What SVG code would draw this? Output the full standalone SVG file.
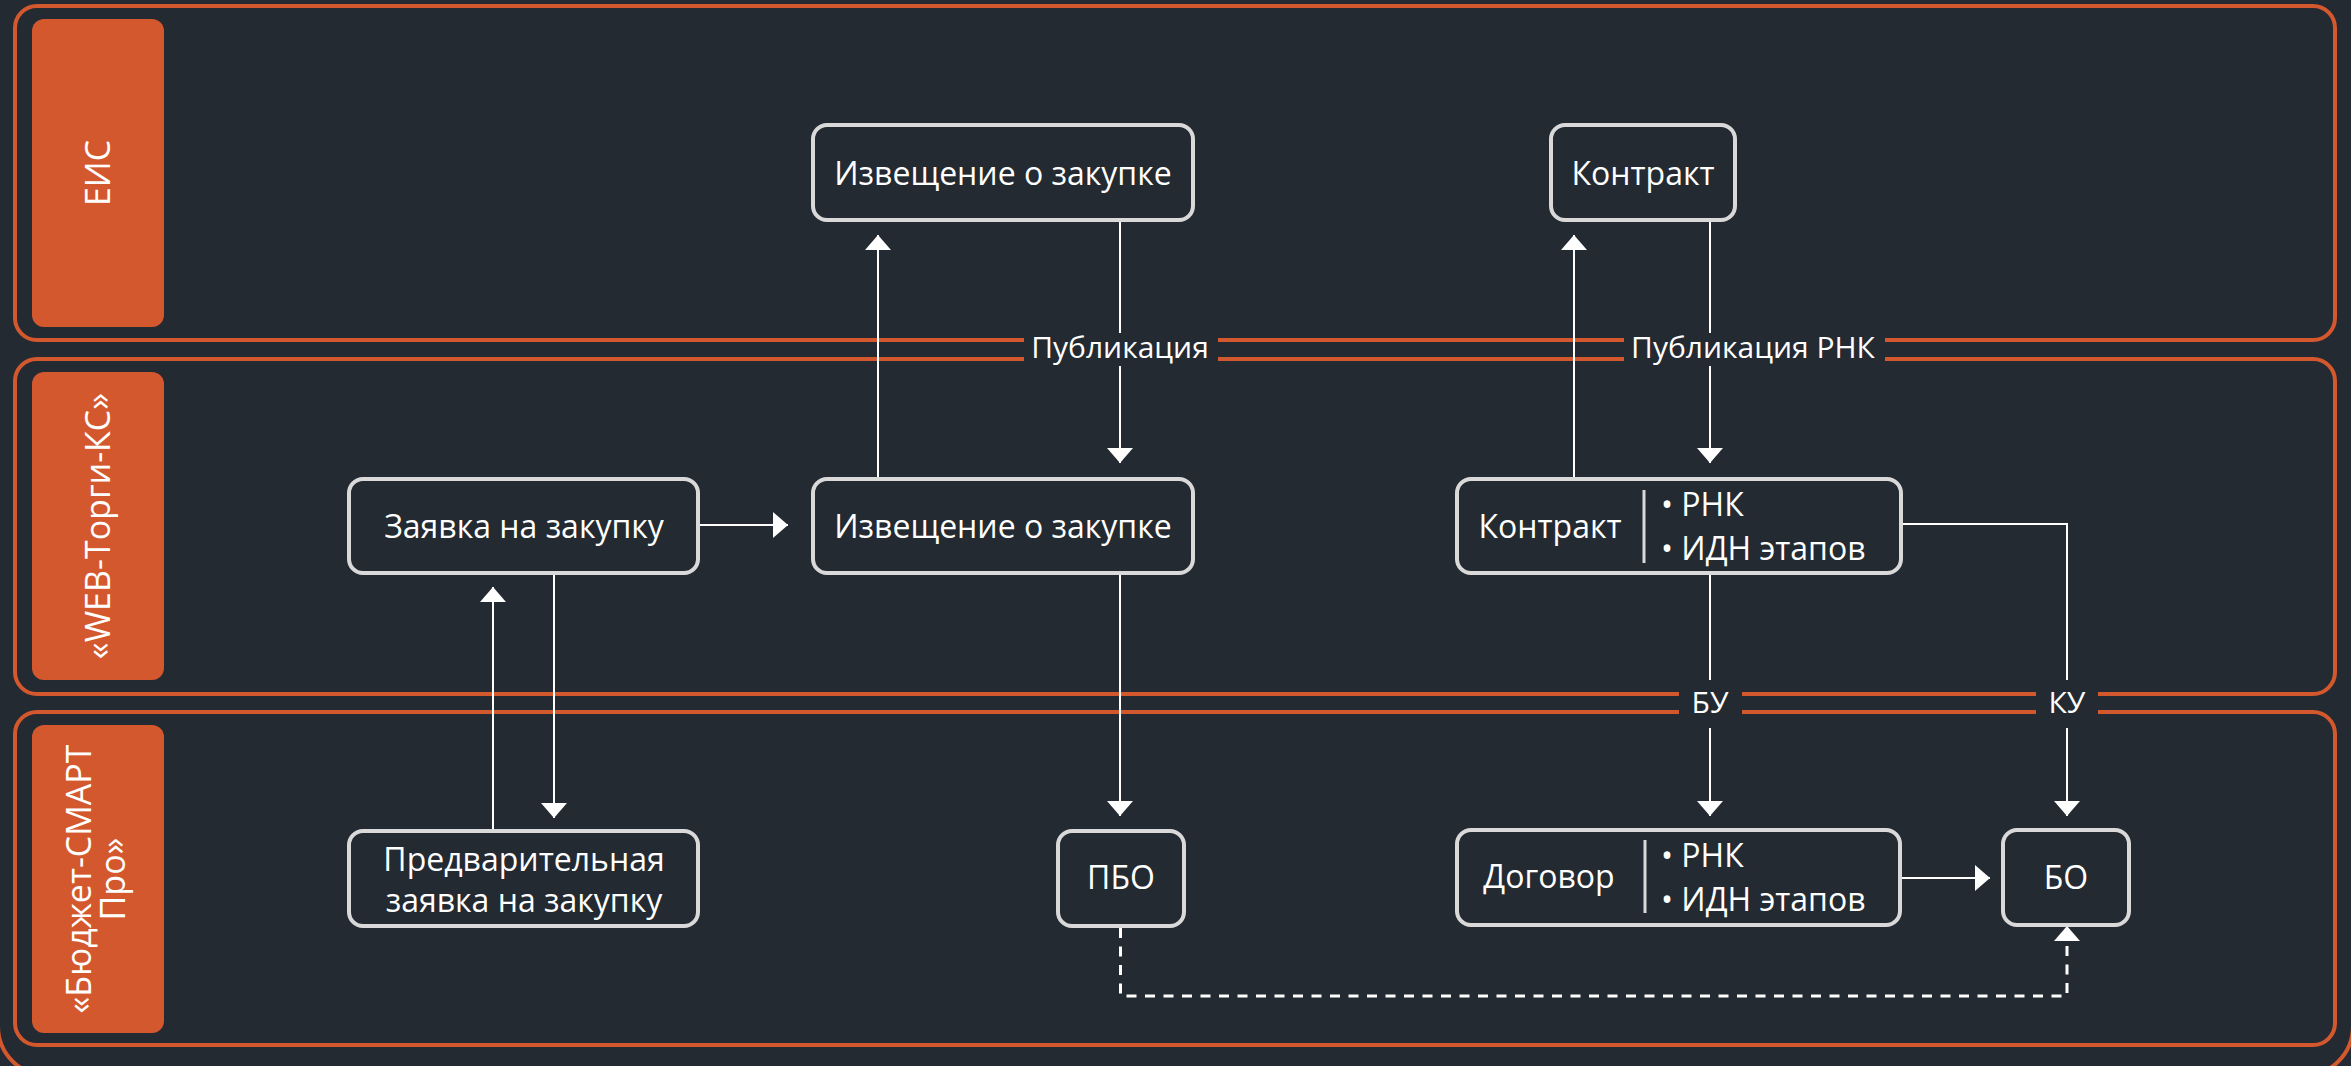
<svg xmlns="http://www.w3.org/2000/svg" width="2351" height="1066" viewBox="0 0 2351 1066">
<defs>
<style>
.lane{fill:none;stroke:#d4582e;stroke-width:4}
.lbl{fill:#d4582e}
.ltxt{font-family:"Open Sans","Noto Sans","DejaVu Sans",sans-serif;font-size:34px;fill:#ffffff;text-anchor:middle}
.box{fill:#232a31;stroke:#d9d9d9;stroke-width:4}
.t{font-family:"Open Sans","Noto Sans","DejaVu Sans",sans-serif;font-size:32px;fill:#ffffff;text-anchor:middle}
.ts{font-family:"Open Sans","Noto Sans","DejaVu Sans",sans-serif;font-size:32px;fill:#ffffff;text-anchor:start}
.ct{font-family:"Open Sans","Noto Sans","DejaVu Sans",sans-serif;font-size:30px;fill:#ffffff;text-anchor:middle}
.div{stroke:#d9d9d9;stroke-width:3}
.c{fill:none;stroke:#ffffff;stroke-width:2}
.dash{fill:none;stroke:#ffffff;stroke-width:3;stroke-dasharray:10 8.5}
.lb{fill:#232a31}
</style>
<marker id="ah" markerUnits="userSpaceOnUse" markerWidth="15" markerHeight="26" viewBox="0 0 15 26" refX="15" refY="13" orient="auto">
<path d="M0,0 L15,13 L0,26 z" fill="#ffffff"/>
</marker>
</defs>
<rect x="0" y="0" width="2351" height="1066" fill="#232a31"/>
<rect x="-2" y="-300" width="2355" height="1376" rx="50" fill="none" stroke="#d4582e" stroke-width="4"/>

<g id="lanes">
<g id="lane-eis">
<rect class="lane" x="15" y="6" width="2320" height="334" rx="22"/>
<rect class="lbl" x="32" y="19" width="132" height="308" rx="12"/>
<text class="ltxt" transform="translate(110,173) rotate(-90)">ЕИС</text>
</g>
<g id="lane-web">
<rect class="lane" x="15" y="359" width="2320" height="335" rx="22"/>
<rect class="lbl" x="32" y="372" width="132" height="308" rx="12"/>
<text class="ltxt" transform="translate(110,526) rotate(-90)">«WEB-Торги-КС»</text>
</g>
<g id="lane-budget">
<rect class="lane" x="15" y="712" width="2320" height="333" rx="22"/>
<rect class="lbl" x="32" y="725" width="132" height="308" rx="12"/>
<text class="ltxt" transform="translate(91,879) rotate(-90)">«Бюджет-СМАРТ</text>
<text class="ltxt" transform="translate(125,879) rotate(-90)">Про»</text>
</g>
</g>

<g id="connectors">
<path class="c" d="M700,525 H788" marker-end="url(#ah)"/>
<path class="c" d="M878,477 V235" marker-end="url(#ah)"/>
<path class="c" d="M1120,222 V463" marker-end="url(#ah)"/>
<path class="c" d="M1120,575 V816" marker-end="url(#ah)"/>
<path class="c" d="M493,829 V587" marker-end="url(#ah)"/>
<path class="c" d="M554,575 V818" marker-end="url(#ah)"/>
<path class="c" d="M1574,477 V235" marker-end="url(#ah)"/>
<path class="c" d="M1710,222 V463" marker-end="url(#ah)"/>
<path class="c" d="M1710,575 V816" marker-end="url(#ah)"/>
<path class="c" d="M1903,524 H2067 V816" marker-end="url(#ah)"/>
<path class="c" d="M1902,878 H1990" marker-end="url(#ah)"/>
<path class="dash" d="M1120.5,928 V996 H2067 V942"/>
<path d="M2054,941 L2067,926 L2080,941 z" fill="#ffffff"/>
<g id="labels">
<rect class="lb" x="1024" y="333" width="194" height="33"/>
<text class="ct" x="1120" y="358">Публикация</text>
<rect class="lb" x="1624" y="333" width="261" height="33"/>
<text class="ct" x="1753" y="358">Публикация РНК</text>
<rect class="lb" x="1679" y="680" width="63" height="48"/>
<text class="ct" x="1710" y="713">БУ</text>
<rect class="lb" x="2036" y="680" width="62" height="48"/>
<text class="ct" x="2067" y="713">КУ</text>
</g>
</g>

<g id="node-izv-eis">
<rect class="box" x="813" y="125" width="380" height="95" rx="14"/>
<text class="t" x="1003" y="185">Извещение о закупке</text>
</g>
<g id="node-kontrakt-eis">
<rect class="box" x="1551" y="125" width="184" height="95" rx="14"/>
<text class="t" x="1643" y="185">Контракт</text>
</g>
<g id="node-zayavka">
<rect class="box" x="349" y="479" width="349" height="94" rx="14"/>
<text class="t" x="524" y="538">Заявка на закупку</text>
</g>
<g id="node-izv-web">
<rect class="box" x="813" y="479" width="380" height="94" rx="14"/>
<text class="t" x="1003" y="538">Извещение о закупке</text>
</g>
<g id="node-kontrakt-web">
<rect class="box" x="1457" y="479" width="444" height="94" rx="14"/>
<text class="t" x="1550" y="538">Контракт</text>
<line class="div" x1="1644" y1="490" x2="1644" y2="563"/>
<text class="ts" x="1661" y="516">• РНК</text>
<text class="ts" x="1661" y="560">• ИДН этапов</text>
</g>
<g id="node-pred">
<rect class="box" x="349" y="831" width="349" height="95" rx="14"/>
<text class="t" x="524" y="871">Предварительная</text>
<text class="t" x="524" y="912">заявка на закупку</text>
</g>
<g id="node-pbo">
<rect class="box" x="1058" y="831" width="126" height="95" rx="14"/>
<text class="t" x="1121" y="889">ПБО</text>
</g>
<g id="node-dogovor">
<rect class="box" x="1457" y="830" width="443" height="95" rx="14"/>
<text class="t" x="1549" y="888">Договор</text>
<line class="div" x1="1645" y1="840" x2="1645" y2="913"/>
<text class="ts" x="1661" y="867">• РНК</text>
<text class="ts" x="1661" y="911">• ИДН этапов</text>
</g>
<g id="node-bo">
<rect class="box" x="2003" y="830" width="126" height="95" rx="14"/>
<text class="t" x="2066" y="889">БО</text>
</g>
</svg>
